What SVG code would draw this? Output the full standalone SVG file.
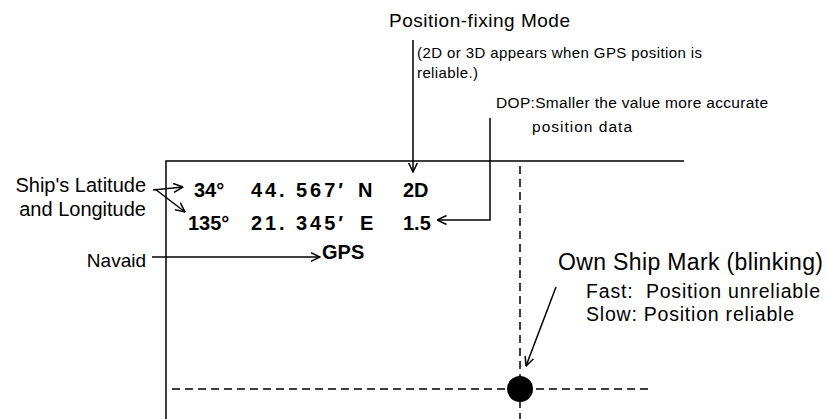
<svg xmlns="http://www.w3.org/2000/svg" width="826" height="419" viewBox="0 0 826 419">
<style>
text{font-family:"Liberation Sans",Arial,sans-serif;fill:#000}
.b{font-weight:bold;font-size:20px}
.ln{stroke:#000;stroke-width:1.5;fill:none}
.dash{stroke:#000;stroke-width:1.5;fill:none;stroke-dasharray:8 5}
</style>
<defs>
<marker id="ah" viewBox="0 0 10 10" refX="9.5" refY="5" markerWidth="10" markerHeight="10" markerUnits="userSpaceOnUse" orient="auto">
<path d="M0,0.5 L9.5,5 L0,9.5" fill="none" stroke="#000" stroke-width="1.5"/>
</marker>
</defs>
<rect width="826" height="419" fill="#fff"/>
<g id="screen">
<path class="ln" d="M166,419 V161 H684"/>
<path class="dash" d="M520,166 V419"/>
<path class="dash" d="M172,389 H652"/>
</g>
<g id="own-ship-mark"><circle cx="520" cy="389" r="13" fill="#000"/></g>
<g id="label-mode">
<text x="389" y="27" font-size="19" textLength="181">Position-fixing Mode</text>
<text x="417" y="58" font-size="15" textLength="285">(2D or 3D appears when GPS position is</text>
<text x="417" y="78" font-size="15" textLength="61">reliable.)</text>
</g>
<g id="label-dop">
<text x="496" y="108" font-size="15.5" textLength="272">DOP:Smaller the value more accurate</text>
<text x="532" y="132" font-size="15.5" textLength="100">position data</text>
</g>
<g id="label-latlon">
<text x="146" y="192" font-size="20" text-anchor="end">Ship's Latitude</text>
<text x="146" y="216" font-size="20" text-anchor="end">and Longitude</text>
</g>
<g id="label-navaid"><text x="146" y="267" font-size="19" text-anchor="end">Navaid</text></g>
<g id="label-ownship">
<text x="558" y="270" font-size="23" textLength="265">Own Ship Mark (blinking)</text>
<text x="586" y="298" font-size="19.5" textLength="234" xml:space="preserve">Fast:  Position unreliable</text>
<text x="586" y="321" font-size="19.5" textLength="208">Slow: Position reliable</text>
</g>
<g id="readout">
<text class="b" x="194" y="197">34°</text>
<text class="b" x="251" y="197" textLength="92">44. 567′</text>
<text class="b" x="358" y="197">N</text>
<text class="b" x="403" y="197">2D</text>
<text class="b" x="188" y="230">135°</text>
<text class="b" x="251" y="230" textLength="92">21. 345′</text>
<text class="b" x="360" y="230">E</text>
<text class="b" x="403" y="230">1.5</text>
<text class="b" x="322" y="259">GPS</text>
</g>
<g id="connectors">
<path class="ln" d="M153,190 L183,187" marker-end="url(#ah)"/>
<path class="ln" d="M155,189 L185,212" marker-end="url(#ah)"/>
<path class="ln" d="M413,40 V172" marker-end="url(#ah)"/>
<path class="ln" d="M490,118 V220 H437" marker-end="url(#ah)"/>
<path class="ln" d="M152,257 H320" marker-end="url(#ah)"/>
<path class="ln" d="M556,287 L526,366" marker-end="url(#ah)"/>
</g>
</svg>
